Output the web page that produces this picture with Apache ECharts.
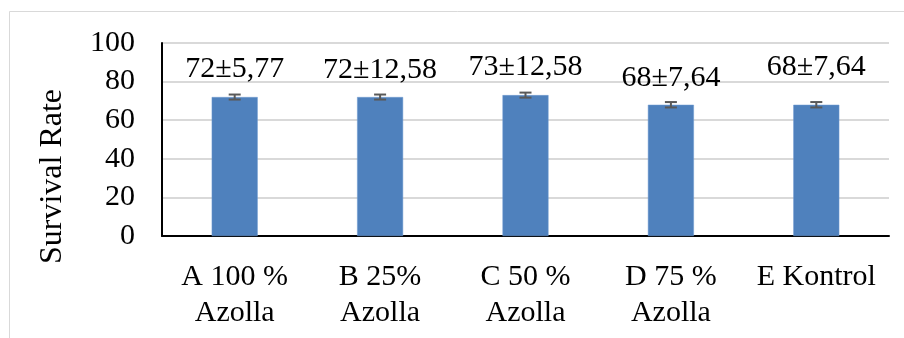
<!DOCTYPE html>
<html>
<head>
<meta charset="utf-8">
<script src="https://cdn.jsdelivr.net/npm/echarts@6/dist/echarts.min.js"></script>
<style>html,body{margin:0;padding:0;background:#fff;}#c{width:904px;height:338px;}</style>
</head>
<body>
<div id="c"></div>
<script>
var categories = ['A 100 %\nAzolla', 'B 25%\nAzolla', 'C 50 %\nAzolla', 'D 75 %\nAzolla', 'E Kontrol'];
var survival = [72, 72, 73, 68, 68];
var errors = [1.3, 1.3, 1.3, 1.4, 1.4];
var labelTexts = ['72±5,77', '72±12,58', '73±12,58', '68±7,64', '68±7,64'];
var labelShift = [0, 1, 0, 1, -10];

var font = '"Liberation Serif", "Times New Roman", serif';
var chart = echarts.init(document.getElementById('c'), null, {renderer: 'canvas'});

var barData = survival.map(function (v, i) {
  return {
    value: v,
    label: {
      show: true,
      position: 'top',
      distance: 13,
      offset: [0, labelShift[i]],
      formatter: labelTexts[i],
      color: '#000',
      fontFamily: font,
      fontSize: 30,
      lineHeight: 30
    }
  };
});

var errData = survival.map(function (v, i) { return [i, v - errors[i], v + errors[i]]; });

chart.setOption({
  animation: false,
  backgroundColor: '#fff',
  graphic: [{
    type: 'rect', silent: true, z: -10,
    shape: {x: 9.5, y: 11.5, width: 1000, height: 1000},
    style: {fill: 'none', stroke: '#d9d9d9', lineWidth: 1}
  }],
  grid: {left: 162, right: 15, top: 43, bottom: 102},
  xAxis: {
    type: 'category',
    data: categories,
    axisLine: {show: true, lineStyle: {color: '#000', width: 2}},
    axisTick: {show: false},
    axisLabel: {color: '#000', fontFamily: font, fontSize: 30, lineHeight: 36, margin: 23, interval: 0}
  },
  yAxis: {
    type: 'value',
    min: 0, max: 100, interval: 20,
    name: 'Survival Rate',
    nameLocation: 'middle',
    nameGap: 93,
    nameRotate: 90,
    nameTextStyle: {color: '#000', fontFamily: font, fontSize: 32, padding: [0, 74, 0, 0]},
    axisLine: {show: true, lineStyle: {color: '#000', width: 2}},
    axisTick: {show: false},
    splitLine: {show: true, lineStyle: {color: '#d9d9d9', width: 2}},
    axisLabel: {color: '#000', fontFamily: font, fontSize: 30, margin: 27}
  },
  series: [{
    type: 'bar',
    data: barData,
    barWidth: 46,
    itemStyle: {color: '#4f81bd', borderColor: '#6f9bd0', borderWidth: 0.5},
    z: 2
  }, {
    type: 'custom',
    data: errData,
    z: 5,
    renderItem: function (params, api) {
      var x = api.value(0);
      var lo = api.coord([x, api.value(1)]);
      var hi = api.coord([x, api.value(2)]);
      var hw = 6;
      var st = {stroke: '#595959', lineWidth: 2};
      return {
        type: 'group',
        children: [
          {type: 'line', shape: {x1: hi[0], y1: hi[1], x2: lo[0], y2: lo[1]}, style: st},
          {type: 'line', shape: {x1: hi[0] - hw, y1: hi[1], x2: hi[0] + hw, y2: hi[1]}, style: st},
          {type: 'line', shape: {x1: lo[0] - hw, y1: lo[1], x2: lo[0] + hw, y2: lo[1]}, style: st}
        ]
      };
    }
  }]
});
</script>
</body>
</html>
